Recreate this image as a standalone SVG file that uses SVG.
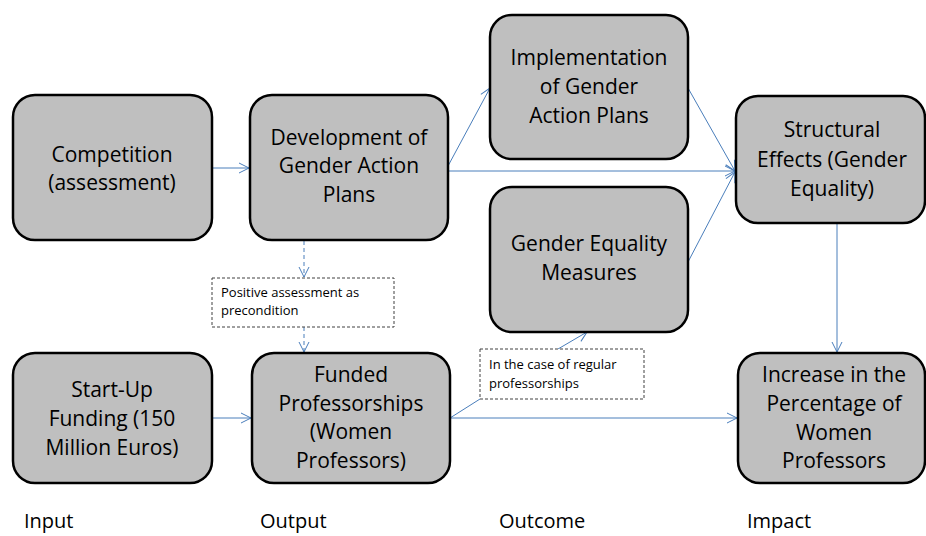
<svg xmlns="http://www.w3.org/2000/svg" width="926" height="536" viewBox="0 0 926 536">
<style>
.box{fill:#bfbfbf;stroke:#000;stroke-width:2.5}
.t{font-family:"Open Sans","Noto Sans",sans-serif;font-size:21px;fill:#000;text-anchor:middle}
.note{fill:#fff;stroke:#404040;stroke-width:1;stroke-dasharray:3,2}
.nt{font-family:"Open Sans","Noto Sans",sans-serif;font-size:13px;fill:#000}
.lab{font-family:"Open Sans","Noto Sans",sans-serif;font-size:20px;fill:#000}
.c{fill:none;stroke:#4a7ebb;stroke-width:1}
.d{fill:none;stroke:#4a7ebb;stroke-width:1;stroke-dasharray:4,3}
</style>
<defs>
<marker id="ar" viewBox="0 0 12 12" refX="11" refY="6" markerWidth="12" markerHeight="12" markerUnits="userSpaceOnUse" orient="auto">
<path d="M1,1 L11,6 L1,11" fill="none" stroke="#4a7ebb" stroke-width="1"/>
</marker>
</defs>
<rect width="926" height="536" fill="#fff"/>
<g id="connectors">
<line class="c" x1="212" y1="168" x2="249" y2="168" marker-end="url(#ar)"/>
<line class="c" x1="448" y1="171" x2="735" y2="171" marker-end="url(#ar)"/>
<line class="c" x1="448" y1="166" x2="490" y2="88" marker-end="url(#ar)"/>
<line class="c" x1="688" y1="88" x2="735" y2="171" marker-end="url(#ar)"/>
<line class="c" x1="688" y1="262" x2="735" y2="172" marker-end="url(#ar)"/>
<line class="c" x1="837" y1="223" x2="837" y2="352" marker-end="url(#ar)"/>
<line class="d" x1="304" y1="241" x2="304" y2="277" marker-end="url(#ar)"/>
<line class="d" x1="304" y1="327" x2="304" y2="352" marker-end="url(#ar)"/>
<line class="c" x1="212" y1="418" x2="251" y2="418" marker-end="url(#ar)"/>
<line class="c" x1="450" y1="418" x2="737" y2="418" marker-end="url(#ar)"/>
<line class="c" x1="450" y1="418" x2="480" y2="399"/>
<line class="c" x1="558" y1="349" x2="587" y2="332" marker-end="url(#ar)"/>
</g>
<g id="competition">
<rect class="box" x="13" y="95" width="199" height="145" rx="22"/>
<text class="t" x="112" y="162">Competition</text>
<text class="t" x="112" y="190">(assessment)</text>
</g>
<g id="development">
<rect class="box" x="250" y="95" width="198" height="145" rx="22"/>
<text class="t" x="349" y="145">Development of</text>
<text class="t" x="349" y="173">Gender Action</text>
<text class="t" x="349" y="202">Plans</text>
</g>
<g id="implementation">
<rect class="box" x="490" y="15" width="198" height="144" rx="22"/>
<text class="t" x="589" y="65">Implementation</text>
<text class="t" x="589" y="94">of Gender</text>
<text class="t" x="589" y="123">Action Plans</text>
</g>
<g id="structural">
<rect class="box" x="736" y="96" width="189" height="127" rx="22"/>
<text class="t" x="832" y="137">Structural</text>
<text class="t" x="832" y="167">Effects (Gender</text>
<text class="t" x="832" y="196">Equality)</text>
</g>
<g id="measures">
<rect class="box" x="490" y="187" width="198" height="145" rx="22"/>
<text class="t" x="589" y="251">Gender Equality</text>
<text class="t" x="589" y="280">Measures</text>
</g>
<g id="startup">
<rect class="box" x="13" y="353" width="199" height="130" rx="22"/>
<text class="t" x="112" y="397">Start-Up</text>
<text class="t" x="112" y="426">Funding (150</text>
<text class="t" x="112" y="455">Million Euros)</text>
</g>
<g id="funded">
<rect class="box" x="252" y="353" width="198" height="130" rx="22"/>
<text class="t" x="351" y="382">Funded</text>
<text class="t" x="351" y="411">Professorships</text>
<text class="t" x="351" y="439">(Women</text>
<text class="t" x="351" y="468">Professors)</text>
</g>
<g id="increase">
<rect class="box" x="738" y="353" width="187" height="130" rx="22"/>
<text class="t" x="834" y="382">Increase in the</text>
<text class="t" x="834" y="411">Percentage of</text>
<text class="t" x="834" y="440">Women</text>
<text class="t" x="834" y="468">Professors</text>
</g>
<g id="note-positive">
<rect class="note" x="212" y="278" width="182" height="49"/>
<text class="nt" x="221" y="297">Positive assessment as</text>
<text class="nt" x="221" y="315">precondition</text>
</g>
<g id="note-regular">
<rect class="note" x="480" y="349" width="164" height="50"/>
<text class="nt" x="489" y="369">In the case of regular</text>
<text class="nt" x="489" y="388">professorships</text>
</g>
<g id="labels">
<text class="lab" x="24" y="528">Input</text>
<text class="lab" x="260" y="528">Output</text>
<text class="lab" x="499" y="528">Outcome</text>
<text class="lab" x="747" y="528">Impact</text>
</g>
</svg>
